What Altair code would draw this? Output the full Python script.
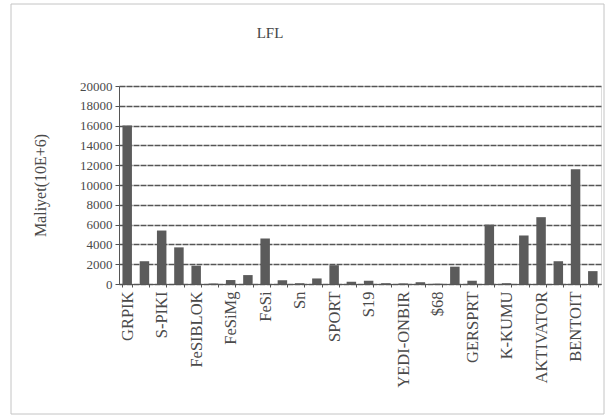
import altair as alt
import pandas as pd

# Category labels (every second bar carries a name on the axis)
labels = ["GRPIK", "S-PIKI", "FeSIBLOK", "FeSiMg", "FeSi", "Sn", "SPORT",
          "S19", "YEDI-ONBIR", "$68", "GERSPRT", "K-KUMU", "AKTIVATOR", "BENTOIT"]

# Cost per bar, in 10E+6
values = [16000, 2300, 5400, 3700, 1850, 50, 400, 900, 4600, 370,
          80, 560, 1900, 230, 330, 80, 60, 180, 30, 1750,
          330, 6000, 80, 4900, 6750, 2300, 11600, 1300]

y_ticks = list(range(0, 20001, 2000))

axis_names = []
for i in range(len(values)):
    axis_names.append(labels[i // 2] if i % 2 == 0 else "")

df = pd.DataFrame({"pos": list(range(len(values))), "cost": values})

label_expr = "[" + ",".join("'" + n + "'" for n in axis_names) + "][datum.value]"

FONT = "Liberation Serif"

bars = alt.Chart(df).mark_bar(color="#5b5b5b").encode(
    x=alt.X(
        "pos:O",
        title=None,
        scale=alt.Scale(paddingInner=0.45, paddingOuter=0.2),
        axis=alt.Axis(
            labelExpr=label_expr,
            labelAngle=-90,
            labelFont=FONT,
            labelFontSize=16.5,
            labelColor="#4a4a4a",
            labelPadding=4,
            tickBand="extent",
            tickSize=3,
            tickColor="#555",
            domainColor="#555",
            grid=False,
        ),
    ),
    y=alt.Y(
        "cost:Q",
        title="Maliyet(10E+6)",
        scale=alt.Scale(domain=[0, 20000], nice=False),
        axis=alt.Axis(
            values=y_ticks,
            format="d",
            labelFont=FONT,
            labelFontSize=13,
            labelColor="#4a4a4a",
            labelPadding=3,
            tickSize=4,
            tickColor="#555",
            domainColor="#555",
            gridColor="#555",
            gridWidth=1.3,
            gridDash=[6, 1],
            titleFont=FONT,
            titleFontSize=16,
            titleFontWeight="normal",
            titleColor="#4a4a4a",
            titlePadding=31,
        ),
    ),
)

# light frame around the whole figure
frame = alt.Chart(alt.Data(values=[{}])).mark_rect(
    fill=None, stroke="#c4c4c4", strokeWidth=1
).encode(
    x=alt.value(-108), x2=alt.value(485),
    y=alt.value(-82), y2=alt.value(328),
)

# chart heading
heading = alt.Chart(alt.Data(values=[{"t": "LFL"}])).mark_text(
    font=FONT, fontSize=15, color="#444", align="center", baseline="middle"
).encode(
    text="t:N", x=alt.value(151), y=alt.value(-53),
)

chart = alt.layer(frame, bars, heading).properties(
    width=482,
    height=198,
    padding={"left": 119, "top": 86, "right": 6, "bottom": 135},
    autosize=alt.AutoSizeParams(type="none"),
).configure_view(
    stroke="#666", strokeWidth=1
).configure(background="white")

chart.save("out.html", embed_options={"renderer": "svg", "actions": False})
